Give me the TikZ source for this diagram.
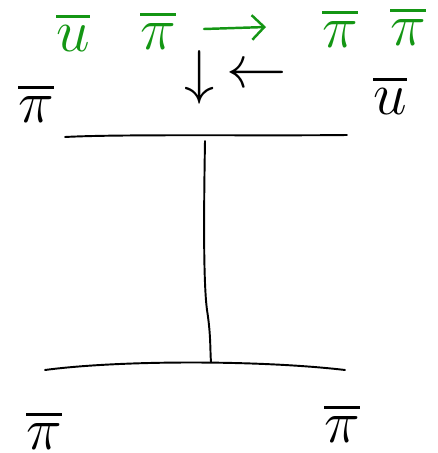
\documentclass[tikz,border=0pt]{standalone}
\usepackage{amsmath}
\usetikzlibrary{arrows.meta}
\definecolor{penGreen}{RGB}{20,150,20}
\tikzset{
  pen/.style={line width=1.1pt, line cap=round, line join=round},
  lbl/.style={inner sep=0pt, font=\Huge, scale=1.38, transform shape},
  glbl/.style={lbl, text=penGreen},
  gpen/.style={pen, draw=penGreen, line width=1.4pt},
}
\begin{document}
\begin{tikzpicture}[x=0.02cm, y=-0.02cm]
  \useasboundingbox (0,0) rectangle (438,453);

  % process written above the diagram
  \node[glbl] (g1) at (73,32) {$\overline{u}$};
  \node[glbl] (g2) at (158,30) {$\overline{\pi}$};
  \node[glbl] (g4) at (340,28) {$\overline{\pi}$};
  \node[glbl] (g5) at (408,26) {$\overline{\pi}$};
  \coordinate (ga) at (204,29);
  \coordinate (gb) at (266,27);
  \draw[gpen, -{Straight Barb[length=7pt, width=14pt, line width=1.4pt]}] (ga) -- (gb);

  % arrows next to the exchange line
  \node[lbl] (d1) at (200,77) {$\downarrow$};
  \node[lbl] (d2) at (257,76) {$\leftarrow$};

  % external legs
  \node[lbl] (tl) at (36,103) {$\overline{\pi}$};
  \node[lbl] (tr) at (390,95) {$\overline{u}$};
  \node[lbl] (bl) at (44,430) {$\overline{\pi}$};
  \node[lbl] (br) at (342,423) {$\overline{\pi}$};

  % upper line
  \coordinate (a1) at (65,137);
  \coordinate (a2) at (347,135);
  \coordinate (am) at (205,141);
  \draw[pen] (a1) .. controls (120,134) and (260,136) .. (a2);

  % lower line
  \coordinate (b1) at (45,370);
  \coordinate (b2) at (345,370);
  \coordinate (bm) at (211,362);
  \draw[pen] (b1) .. controls (120,360) and (260,360) .. (b2);

  % exchange line
  \draw[pen] (am) .. controls (204,200) and (203,280) .. (207,310)
             .. controls (211,335) and (210,350) .. (bm);
\end{tikzpicture}
\end{document}
